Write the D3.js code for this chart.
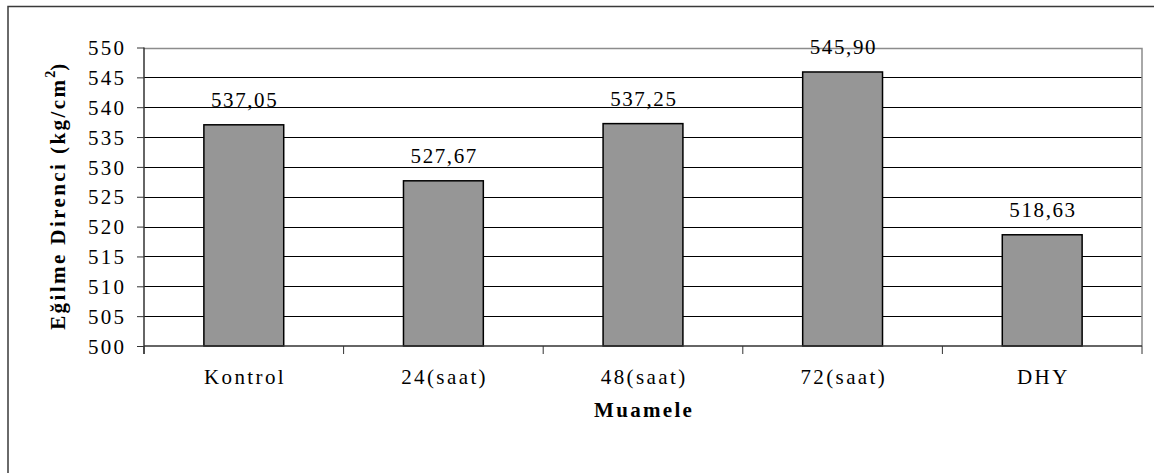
<!DOCTYPE html>
<html>
<head>
<meta charset="utf-8">
<script src="https://cdn.jsdelivr.net/npm/d3@7/dist/d3.min.js"></script>
</head>
<body style="margin:0">
<svg id="chart" width="1154" height="473" style="display:block"></svg>
<script>
const categories = ["Kontrol", "24(saat)", "48(saat)", "72(saat)", "DHY"];
const values = [537.05, 527.67, 537.25, 545.90, 518.63];
const valueLabels = ["537,05", "527,67", "537,25", "545,90", "518,63"];
const yTicks = [500, 505, 510, 515, 520, 525, 530, 535, 540, 545, 550];
const yTitle = "Eğilme Direnci (kg/cm";
const yTitleSup = "2";
const yTitleEnd = ")";
const xTitle = "Muamele";

(function () {
const FONT = "'Liberation Serif', Tinos, 'Times New Roman', serif";
const svg = d3.select("#chart");
const W = 1154, H = 473;
const pLeft = 144, pRight = 1142, pTop = 47.5, pBottom = 346;

// widen a text element by a fixed gap between glyphs
function spread(sel, gap) {
  sel.each(function () {
    const n = this.textContent.length;
    const w = this.getComputedTextLength();
    if (n > 1 && w > 0) {
      d3.select(this).attr("textLength", w + gap * (n - 1)).attr("lengthAdjust", "spacing");
    }
  });
}

// outer frame (only left and top visible)
svg.append("path")
  .attr("d", `M8,${H + 5}V6.5H${W + 5}`)
  .attr("fill", "none").attr("stroke", "#3a3a3a").attr("stroke-width", 1.5);

const x = d3.scaleBand().domain(categories).range([pLeft, pRight]).paddingInner(0.6).paddingOuter(0.3);
const y = d3.scaleLinear().domain([500, 550]).range([pBottom, pTop]);

// gridlines
svg.append("g").selectAll("line").data(yTicks.filter(t => t > 500 && t < 550)).join("line")
  .attr("x1", pLeft).attr("x2", pRight)
  .attr("y1", d => Math.round(y(d)) + 0.5).attr("y2", d => Math.round(y(d)) + 0.5)
  .attr("stroke", "#000").attr("stroke-width", 1);

// plot area top & right border (gray)
svg.append("path")
  .attr("d", `M${pLeft},${Math.round(y(550)) + 0.5}H${pRight}V${pBottom}`)
  .attr("fill", "none").attr("stroke", "#8c8c8c").attr("stroke-width", 1.5);

// bars
svg.append("g").selectAll("rect").data(values).join("rect")
  .attr("x", (d, i) => x(categories[i]))
  .attr("y", d => y(d))
  .attr("width", x.bandwidth())
  .attr("height", d => pBottom - y(d))
  .attr("fill", "#969696").attr("stroke", "#000").attr("stroke-width", 1.5);

// value labels
svg.append("g").selectAll("text").data(values).join("text")
  .attr("x", (d, i) => x(categories[i]) + x.bandwidth() / 2)
  .attr("y", d => y(d) - 18)
  .attr("text-anchor", "middle")
  .style("font-family", FONT)
  .style("font-size", "21px")
  .text((d, i) => valueLabels[i])
  .call(spread, 1.6);

// y axis
const yAxis = d3.axisLeft(y).tickValues(yTicks).tickSize(7).tickPadding(11).tickFormat(d3.format("d"));
const gy = svg.append("g").attr("transform", `translate(${pLeft},0)`).call(yAxis);
gy.attr("font-family", null).attr("font-size", null);
gy.select(".domain").remove();
gy.selectAll(".tick line").attr("stroke", "#333").attr("stroke-width", 1);
gy.selectAll(".tick text")
  .style("font-family", FONT)
  .style("font-size", "21px")
  .attr("fill", "#000")
  .attr("dy", "0.34em").attr("x", -20)
  .call(spread, 2.3);
svg.append("line").attr("x1", pLeft).attr("x2", pLeft).attr("y1", pTop).attr("y2", pBottom + 8)
  .attr("stroke", "#333").attr("stroke-width", 1.5);

// x axis
const bounds = d3.range(categories.length + 1).map(i => pLeft + i * x.step());
svg.append("line").attr("x1", pLeft).attr("x2", pRight).attr("y1", pBottom).attr("y2", pBottom)
  .attr("stroke", "#333").attr("stroke-width", 1.5);
svg.append("g").selectAll("line").data(bounds).join("line")
  .attr("x1", d => d).attr("x2", d => d).attr("y1", pBottom).attr("y2", pBottom + 8)
  .attr("stroke", "#333").attr("stroke-width", 1);

svg.append("g").selectAll("text").data(categories).join("text")
  .attr("x", d => x(d) + x.bandwidth() / 2)
  .attr("y", 384)
  .attr("text-anchor", "middle")
  .style("font-family", FONT)
  .style("font-size", "21px")
  .text(d => d)
  .call(spread, 2.4);

// x title
svg.append("text")
  .attr("x", (pLeft + pRight) / 2).attr("y", 417)
  .attr("text-anchor", "middle")
  .style("font-family", FONT)
  .style("font-size", "21px").style("font-weight", "bold")
  .text(xTitle)
  .call(spread, 2.3);

// y title
const yt = svg.append("text")
  .attr("transform", `translate(65,${(pTop + pBottom) / 2}) rotate(-90)`)
  .attr("text-anchor", "middle")
  .style("font-family", FONT)
  .style("font-size", "21px").style("font-weight", "bold");
const t1 = yt.append("tspan").text(yTitle);
yt.append("tspan").attr("dy", -10).style("font-size", "14px").text(yTitleSup);
yt.append("tspan").attr("dy", 10).text(yTitleEnd);
const n1 = yTitle.length;
const w1 = t1.node().getComputedTextLength();
t1.attr("textLength", w1 + 2.3 * n1).attr("lengthAdjust", "spacing");
})();
</script>
</body>
</html>
